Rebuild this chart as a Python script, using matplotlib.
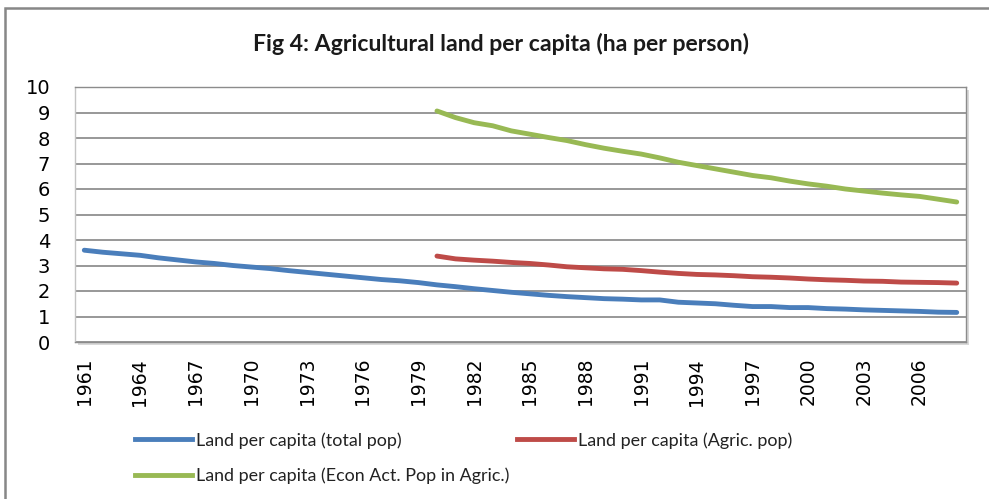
import matplotlib
matplotlib.use('Agg')
import matplotlib.pyplot as plt
from matplotlib.lines import Line2D
from matplotlib.patches import Rectangle

years = list(range(1961, 2009))
total_pop = [3.60, 3.52, 3.46, 3.40, 3.30, 3.22, 3.14, 3.08, 3.00, 2.94,
             2.88, 2.80, 2.73, 2.66, 2.59, 2.52, 2.45, 2.40, 2.33, 2.24,
             2.17, 2.09, 2.02, 1.95, 1.89, 1.83, 1.78, 1.74, 1.70, 1.68,
             1.65, 1.65, 1.56, 1.53, 1.50, 1.44, 1.39, 1.39, 1.35, 1.35,
             1.31, 1.29, 1.26, 1.24, 1.22, 1.20, 1.17, 1.16]
agric_years = list(range(1980, 2009))
agric_pop = [3.37, 3.26, 3.21, 3.17, 3.12, 3.08, 3.02, 2.95, 2.91, 2.87,
             2.85, 2.80, 2.74, 2.69, 2.65, 2.63, 2.60, 2.56, 2.54, 2.51,
             2.47, 2.44, 2.42, 2.39, 2.38, 2.35, 2.34, 2.33, 2.31]
econ_act = [9.06, 8.80, 8.60, 8.48, 8.28, 8.15, 8.02, 7.90, 7.74, 7.60,
            7.48, 7.37, 7.22, 7.05, 6.92, 6.79, 6.66, 6.53, 6.44, 6.31,
            6.20, 6.11, 6.00, 5.92, 5.84, 5.77, 5.71, 5.60, 5.49]
xtick_years = list(range(1961, 2009, 3))
yticks = list(range(0, 11))
title = "Fig 4: Agricultural land per capita (ha per person)"
labels = ["Land per capita (total pop)",
          "Land per capita (Agric. pop)",
          "Land per capita (Econ Act. Pop in Agric.)"]
colors = ["#4A7EBB", "#BE4B48", "#98B954"]

W, H = 989, 499
fig = plt.figure(figsize=(W / 100, H / 100), dpi=100)
fig.patch.set_facecolor("white")
renderer = fig.canvas.get_renderer()


def fit_size(text, target_px, **kw):
    t = fig.text(0, 0, text, fontsize=10, **kw)
    w = t.get_window_extent(renderer).width
    t.remove()
    return 10 * target_px / w


# outer chart frame (extends past the right/bottom edges)
fig.add_artist(Rectangle((5 / W, -0.1), 1.2, (H - 8) / H + 0.1,
                         transform=fig.transFigure, fill=False,
                         edgecolor="#878787", linewidth=1.8))

ax_l, ax_r, ax_t, ax_b = 75, 966, 87, 342
# subtle shadow of plot area
fig.add_artist(Rectangle(((ax_l + 3) / W, (H - ax_b - 3) / H),
                         (ax_r - ax_l) / W, (ax_b - ax_t) / H,
                         transform=fig.transFigure, facecolor="#d9d9d9",
                         edgecolor="none", zorder=0.5))
ax = fig.add_axes([ax_l / W, (H - ax_b) / H, (ax_r - ax_l) / W, (ax_b - ax_t) / H])
ax.set_facecolor("white")
ax.set_zorder(1)

lw = 3.5
l1, = ax.plot(years, total_pop, color=colors[0], lw=lw, solid_capstyle="round")
l2, = ax.plot(agric_years, agric_pop, color=colors[1], lw=lw, solid_capstyle="round")
l3, = ax.plot(agric_years, econ_act, color=colors[2], lw=lw, solid_capstyle="round")

ax.set_xlim(1960.5, 2008.5)
ax.set_ylim(0, 10)
ax.set_yticks(yticks)
ax.set_xticks(xtick_years)
ax.set_xticklabels([str(y) for y in xtick_years], rotation=90, fontsize=13.5,
                   family="DejaVu Sans")
ax.set_yticklabels([str(v) for v in yticks], fontsize=14, family="DejaVu Sans")
ax.tick_params(axis="y", length=0, pad=18)
ax.tick_params(axis="x", length=0, pad=11.5)
ax.grid(axis="y", color="#868686", linewidth=1.2)
ax.set_axisbelow(True)
for s in ["top", "right", "bottom"]:
    ax.spines[s].set_color("#8c8c8c")
    ax.spines[s].set_linewidth(1.0)
ax.spines["left"].set_color("#c4c4c4")
ax.spines["left"].set_linewidth(1.0)

tsize = fit_size(title, 497, family="Lato", weight="bold")
fig.text(501 / W, 1 - 44 / H, title, ha="center", va="center",
         fontsize=tsize, family="Lato", weight="bold", color="#1a1a1a")

lsize = fit_size(labels[0], 206, family="Lato")
fs_px = lsize * 100 / 72
handles = [Line2D([], [], color=colors[0], lw=lw),
           Line2D([], [], color=colors[2], lw=lw),
           Line2D([], [], color=colors[1], lw=lw)]
leg = fig.legend(handles, [labels[0], labels[2], labels[1]], ncol=2,
                 loc="upper left", bbox_to_anchor=(135 / W, 1 - 432 / H),
                 frameon=False, prop={"family": "Lato", "size": lsize},
                 handlelength=57 / fs_px, handletextpad=4 / fs_px,
                 columnspacing=8 / fs_px, labelspacing=1.05, borderpad=0,
                 borderaxespad=0)
for t in leg.get_texts():
    t.set_color("#222222")

fig.savefig("out.png", dpi=100, facecolor="white")
